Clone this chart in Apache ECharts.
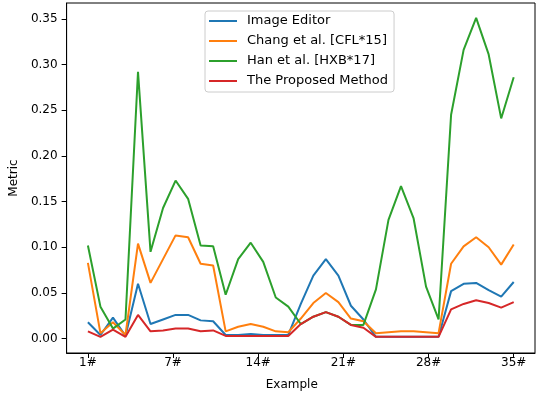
<!DOCTYPE html>
<html>
<head>
<meta charset="utf-8">
<script src="https://cdn.jsdelivr.net/npm/echarts@6/dist/echarts.min.js"></script>
<style>
html,body{margin:0;padding:0;background:#fff;}
#chart{width:538px;height:399px;}
</style>
</head>
<body>
<div id="chart"></div>
<script>
var seriesNames = ["Image Editor", "Chang et al. [CFL*15]", "Han et al. [HXB*17]", "The Proposed Method"];
var imageEditor = [0.018,0.004,0.023,0.003,0.060,0.016,0.021,0.026,0.026,0.020,0.019,0.004,0.004,0.005,0.004,0.004,0.004,0.038,0.069,0.087,0.069,0.036,0.021,0.002,0.002,0.002,0.002,0.002,0.002,0.052,0.060,0.061,0.053,0.046,0.062];
var chang = [0.083,0.006,0.018,0.004,0.104,0.061,0.087,0.113,0.111,0.082,0.080,0.008,0.013,0.016,0.013,0.008,0.007,0.022,0.039,0.050,0.040,0.022,0.019,0.006,0.007,0.008,0.008,0.007,0.006,0.082,0.101,0.111,0.100,0.081,0.103];
var han = [0.102,0.035,0.011,0.021,0.292,0.095,0.143,0.173,0.153,0.102,0.101,0.048,0.087,0.105,0.084,0.045,0.035,0.016,0.024,0.029,0.024,0.015,0.015,0.054,0.130,0.167,0.132,0.057,0.021,0.245,0.316,0.351,0.311,0.241,0.286];
var proposed = [0.008,0.002,0.010,0.002,0.026,0.008,0.009,0.011,0.011,0.008,0.009,0.003,0.003,0.003,0.003,0.003,0.003,0.016,0.024,0.029,0.024,0.015,0.012,0.002,0.002,0.002,0.002,0.002,0.002,0.032,0.038,0.042,0.039,0.034,0.040];
var xTickValues = [0, 6.8, 13.6, 20.4, 27.2, 34];
var xTickLabels = ["1#", "7#", "14#", "21#", "28#", "35#"];
var yTickValues = [0, 0.05, 0.10, 0.15, 0.20, 0.25, 0.30, 0.35];
var colors = ["#1f77b4", "#ff7f0e", "#2ca02c", "#d62728"];

var font = "DejaVu Sans";
function toPairs(arr){ return arr.map(function(v,i){ return [i, v]; }); }
var allData = [imageEditor, chang, han, proposed];

var chart = echarts.init(document.getElementById('chart'), null, {renderer:'canvas'});
chart.setOption({
  animation: false,
  color: colors,
  grid: {left: 65, right: 3, top: 3, bottom: 46, show: true, borderColor: '#000', borderWidth: 1, backgroundColor: 'transparent'},
  legend: {
    orient: 'vertical', left: 205, top: 11,
    data: seriesNames,
    icon: 'rect', itemWidth: 28, itemHeight: 2, itemGap: 0,
    padding: [0, 6, 1, 4],
    backgroundColor: 'rgba(255,255,255,0.8)',
    borderColor: '#cccccc', borderWidth: 1, borderRadius: 3,
    textStyle: {fontFamily: font, fontSize: 13, color: '#000', lineHeight: 20, padding: [0,0,0,5]}
  },
  xAxis: {
    type: 'value', min: -1.7, max: 35.7,
    name: 'Example', nameLocation: 'middle', nameGap: 26,
    nameTextStyle: {fontFamily: font, fontSize: 12, color: '#000', padding: [0, 18, 0, 0]},
    axisLine: {show: true, onZero: false, lineStyle: {color: '#000', width: 1}},
    axisTick: {show: true, customValues: xTickValues, length: 5, lineStyle: {color: '#000'}},
    axisLabel: {customValues: xTickValues, margin: 4, fontFamily: font, fontSize: 12, color: '#000',
      formatter: function(v){ var k = xTickValues.indexOf(v); return k >= 0 ? xTickLabels[k] : ''; }},
    splitLine: {show: false}
  },
  yAxis: {
    type: 'value', min: -0.0157, max: 0.3673,
    name: 'Metric', nameLocation: 'middle', nameGap: 45,
    nameTextStyle: {fontFamily: font, fontSize: 12, color: '#000'},
    axisLine: {show: true, onZero: false, lineStyle: {color: '#000', width: 1}},
    axisTick: {show: true, customValues: yTickValues, length: 5, lineStyle: {color: '#000'}},
    axisLabel: {customValues: yTickValues, margin: 9, fontFamily: font, fontSize: 12, color: '#000',
      formatter: function(v){ return v.toFixed(2); }},
    splitLine: {show: false}
  },
  series: seriesNames.map(function(n, k){
    return {name: n, type: 'line', data: toPairs(allData[k]), showSymbol: false, symbol: 'none',
      lineStyle: {width: 2, color: colors[k]}, itemStyle: {color: colors[k]}, z: 2 + k};
  })
});
</script>
</body>
</html>
